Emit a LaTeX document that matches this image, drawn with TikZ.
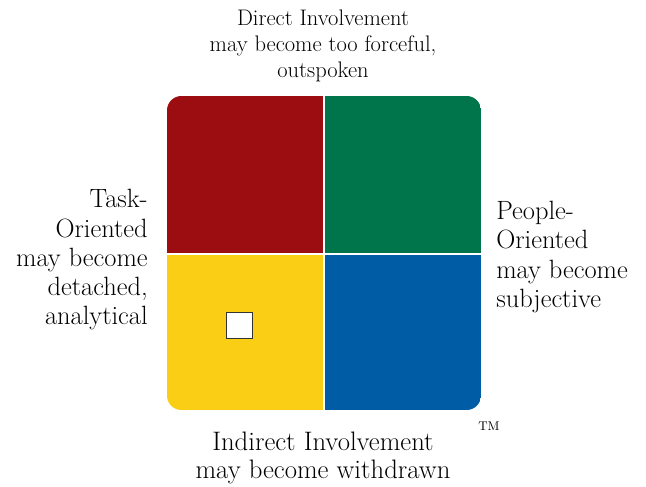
\documentclass[tikz,border=0pt]{standalone}
\usetikzlibrary{positioning}

\definecolor{qred}{RGB}{156,13,18}
\definecolor{qgreen}{RGB}{0,117,76}
\definecolor{qyellow}{RGB}{250,206,20}
\definecolor{qblue}{RGB}{0,92,165}

\tikzstyle{lbl} = [inner sep=0pt, text centered]
\tikzstyle{side} = [inner sep=0pt, font=\fontsize{18.8}{20.8}\selectfont]
\tikzstyle{marker} = [rectangle, draw=black!80, fill=white, line width=0.8pt, minimum size=0.66cm, inner sep=0pt]

\begin{document}
\begin{tikzpicture}[x=0.025cm,y=-0.025cm]
\useasboundingbox (0,0) rectangle (646,487);

% the four quadrants
\begin{scope}
\clip[rounded corners=0.36cm] (167,96) rectangle (481,410);
\fill[qred] (167,96) rectangle (322.5,252.5);
\fill[qgreen] (324.5,96) rectangle (481,252.5);
\fill[qyellow] (167,254.5) rectangle (322.5,410);
\fill[qblue] (324.5,254.5) rectangle (481,410);
\end{scope}

\node[marker] (Box) at (239.5,325.5) {};

\node[lbl, align=center, font=\fontsize{16}{18.6}\selectfont] (Direct) at (323,46)
{Direct Involvement\\may become too forceful,\\outspoken};
\node[lbl, align=center, font=\fontsize{19}{19.6}\selectfont] (Indirect) at (323,458)
{Indirect Involvement\\may become withdrawn};
\node[side, align=right, anchor=east] (Task) at (148,260)
{Task-\\Oriented\\may become\\detached,\\analytical};
\node[side, align=left, anchor=west] (People) at (496,257)
{People-\\Oriented\\may become\\subjective};
\node[lbl, font=\fontsize{9}{10}\selectfont] (TM) at (489,426) {TM};

\end{tikzpicture}
\end{document}
